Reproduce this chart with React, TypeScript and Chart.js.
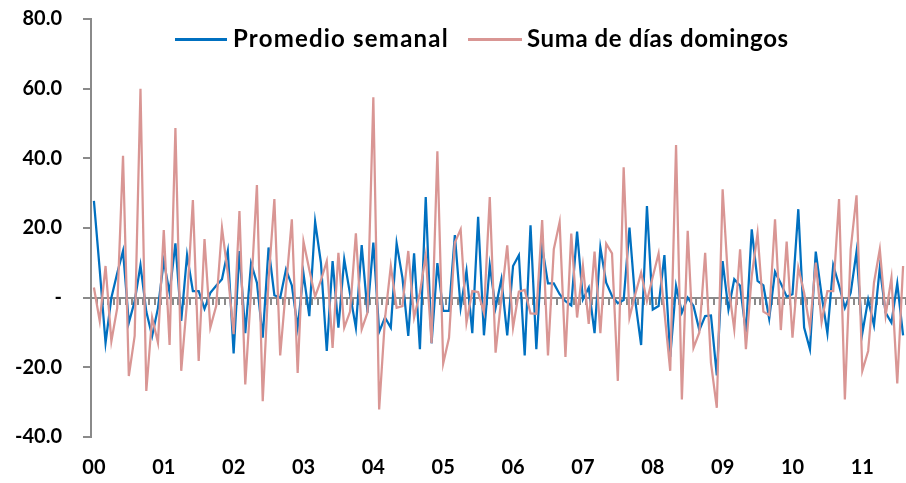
import React, { useEffect, useRef } from 'react';
import { Chart, registerables } from 'chart.js';

Chart.register(...registerables);

// ---- data ----
const yearLabels = ['00', '01', '02', '03', '04', '05', '06', '07', '08', '09', '10', '11'];
const monthCodes = ['01', '02', '03', '04', '05', '06', '07', '08', '09', '10', '11', '12'];
const lastMonthOf2011 = 8; // series ends in August 2011

const categories: string[] = [];
yearLabels.forEach((y, yi) => {
  monthCodes.forEach((m, mi) => {
    if (yi === yearLabels.length - 1 && mi >= lastMonthOf2011) return;
    categories.push(y + '-' + m);
  });
});

const yMin = -40;
const yMax = 80;
const yStep = 20;

const seriesNames = ['Promedio semanal', 'Suma de días domingos'];

const promedioSemanal = [
  27.8, 8, -13, 0, 7, 13.4, -7.2, -1, 9.3, -4, -11, -3,
  10.5, 1.4, 15.6, -6.7, 12.2, 1.9, 1.9, -3.2, 1.4, 3.4, 5.3, 13.4,
  -16, 13.4, -10.2, 9.9, 4.3, -11.5, 14.4, 0.7, 0, 8.1, 3.5, -8.6,
  6.9, -5.3, 21.8, 10, -15.3, 10.5, -8.6, 11, 1, -8.6, 15.1, -4.3,
  15.8, -9.8, -5.7, -8.6, 15.6, 5.7, -11, 12.7, -14.8, 28.9, -13.1, 9.9,
  -3.8, -3.8, 18, -2.9, 7.7, -10.2, 23.2, -10.8, 9.3, -2.9, 5.3, -10.8,
  9.1, 12.2, -16.6, 20.8, -14.8, 14.6, 4.1, 4.1, 1, -1, -2.2, 19,
  -0.5, 2.9, -10.2, 14.4, 4.3, 0.5, -1.6, -0.7, 20.1, -1, -13.6, 26.3,
  -3.4, -2.4, 12.2, -17, 3.4, -4.3, 0, -2.4, -9.3, -5.3, -5.1, -22.3,
  10.5, -3.4, 5.3, 3.4, -10, 19.6, 4.8, 3.5, -6, 7.4, 4.1, 0.3,
  1, 25.4, -8.6, -14.8, 13.2, 0.7, -10.2, 9.3, 3.5, -2.9, 1.4, 13.2,
  -10.2, -0.5, -7.9, 8.6, -4.3, -7.2, 4.1, -10.8,
];

const sumaDomingos = [
  2.9, -6.7, 9.1, -12.5, -3, 40.7, -22.5, -11, 60, -26.8, -5.7, -12.9,
  19.4, -13.6, 48.7, -21, -1, 28, -18.2, 16.8, -8.6, -2.4, 20, 7,
  -10.5, 24.9, -24.9, 2, 32.3, -29.7, 5, 28.3, -16.6, 3, 22.5, -21.6,
  16.1, 8, 0.3, 5, 10.5, -14.4, 12.9, -8.6, -4, 18.5, -9.1, -4.3,
  57.5, -32.1, -6, 9.1, -2.9, -2.4, 13.4, -5.7, 1.4, 12.2, -13.1, 42,
  -18.9, -11.5, 15.8, 19.6, -7.2, 1.9, 1.6, -4.3, 28.9, -15.8, 0, 15,
  -8.6, 1.7, 2.2, -4.5, -4.6, 22.3, -16.6, 13.9, 21.7, -17, 18.4, -5.7,
  9.1, -7.5, 13.2, -10.2, 15.5, 12.7, -23.9, 37.4, -5.7, 1, 7.2, -1,
  6, 12.7, -4, -21, 43.8, -29.2, 19.2, -14.4, -10, 12.9, -18.7, -31.6,
  31.1, 3.4, -9.1, 13.9, -14.8, 6.2, 18.5, -4, -5, 22.5, -9.3, 16.1,
  -11.5, 8.6, 1.4, -8.6, 10.1, -7, 1.9, 1.9, 28.3, -29.2, 13.9, 29.4,
  -21, -15.3, 4.3, 13.9, -5.1, 5.7, -24.6, 9.1,
];

// ---- styles ----
const BLUE = '#0070C0';
const PINK = '#D99694';
const AXIS = '#8a8a8a';
const FONT = 'Lato, "Open Sans", sans-serif';

export default function App() {
  const canvasRef = useRef<HTMLCanvasElement | null>(null);

  useEffect(() => {
    if (!canvasRef.current) return;
    const chart = new Chart(canvasRef.current, {
      type: 'line',
      data: {
        labels: categories,
        datasets: [
          {
            label: seriesNames[0],
            data: promedioSemanal,
            borderColor: BLUE,
            backgroundColor: BLUE,
            borderWidth: 2.25,
            pointRadius: 0,
            tension: 0,
            xAxisID: 'x',
            yAxisID: 'y',
            order: 1,
          },
          {
            label: seriesNames[1],
            data: sumaDomingos,
            borderColor: PINK,
            backgroundColor: PINK,
            borderWidth: 2.25,
            pointRadius: 0,
            tension: 0,
            xAxisID: 'x',
            yAxisID: 'y',
            order: 0,
          },
        ],
      },
      options: {
        responsive: false,
        animation: false,
        events: [],
        layout: { padding: { top: 19, left: 0, right: 0, bottom: 0 } },
        plugins: {
          legend: { display: false },
          tooltip: { enabled: false },
        },
        scales: {
          x: {
            type: 'category',
            position: 'bottom',
            offset: true,
            grid: { display: false, drawTicks: false },
            border: { display: false },
            ticks: {
              autoSkip: false,
              maxRotation: 0,
              minRotation: 0,
              padding: 19,
              color: '#000',
              font: { family: FONT, size: 20, weight: 'bold' },
              callback: (_v: any, i: number) => {
                const c = categories[i];
                return c && c.endsWith('-01') ? c.slice(0, 2) : '';
              },
            },
            afterFit: (s: any) => {
              s.height = 46;
              s.paddingLeft = 0;
              s.paddingRight = 0;
            },
          },
          y: {
            type: 'linear',
            position: 'left',
            min: yMin,
            max: yMax,
            grid: {
              drawOnChartArea: false,
              drawTicks: true,
              tickLength: 8,
              color: AXIS,
              lineWidth: 2,
            },
            border: { display: true, color: AXIS, width: 2 },
            ticks: {
              stepSize: yStep,
              padding: 21,
              color: '#000',
              font: { family: FONT, size: 20, weight: 'bold' },
              callback: (v: any) => (Number(v) === 0 ? '-' : Number(v).toFixed(1)),
            },
            afterFit: (s: any) => {
              s.width = 91;
              s.paddingTop = 0;
              s.paddingBottom = 0;
            },
          },
          x2: {
            type: 'category',
            axis: 'x',
            labels: categories,
            position: { y: 0 },
            offset: true,
            grid: {
              offset: true,
              drawOnChartArea: false,
              drawTicks: true,
              tickLength: 6,
              color: AXIS,
              lineWidth: 2,
            },
            border: { display: true, color: AXIS, width: 2 },
            ticks: { display: false, autoSkip: false },
            afterFit: (s: any) => {
              s.paddingLeft = 0;
              s.paddingRight = 0;
            },
          },
        } as any,
      },
    });
    return () => chart.destroy();
  }, []);

  const legendText: React.CSSProperties = {
    position: 'absolute',
    top: 26,
    fontFamily: FONT,
    fontWeight: 'bold',
    fontSize: 24,
    lineHeight: '24px',
    color: '#000',
    whiteSpace: 'nowrap',
  };

  return (
    <div style={{ position: 'fixed', left: 0, top: 0, width: 906, height: 483, background: '#fff' }}>
      <canvas ref={canvasRef} width={906} height={483} style={{ display: 'block' }} />
      <div style={{ position: 'absolute', left: 175, top: 38, width: 52, height: 2.5, background: BLUE }} />
      <span style={{ ...legendText, left: 233, letterSpacing: '1.2px' }}>{seriesNames[0]}</span>
      <div style={{ position: 'absolute', left: 468, top: 38, width: 54, height: 2.5, background: PINK }} />
      <span style={{ ...legendText, left: 527, letterSpacing: '0.6px' }}>{seriesNames[1]}</span>
    </div>
  );
}
